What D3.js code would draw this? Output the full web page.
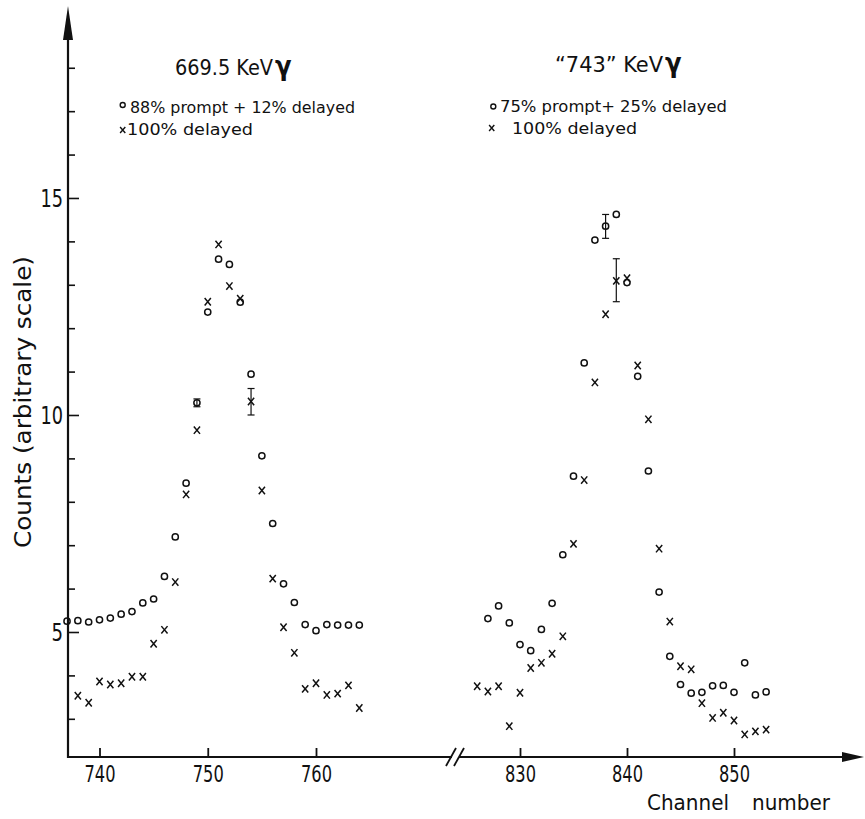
<!DOCTYPE html>
<html>
<head>
<meta charset="utf-8">
<script src="https://cdn.jsdelivr.net/npm/d3@7"></script>
<style>
body { margin: 0; background: #fff; }
svg { display: block; }
text { font-family: "DejaVu Sans Condensed", "DejaVu Sans", sans-serif; fill: #111; }
</style>
</head>
<body>
<script>
// data (channel, counts)
var leftPromptCh = [737,738,739,740,741,742,743,744,745,746,747,748,749,750,751,752,753,754,755,756,757,758,759,760,761,762,763,764];
var leftPromptVal = [5.25,5.26,5.23,5.28,5.32,5.41,5.47,5.67,5.76,6.28,7.19,8.43,10.28,12.37,13.59,13.47,12.6,10.94,9.06,7.5,6.11,5.68,5.17,5.03,5.17,5.16,5.16,5.16];
var leftDelayedCh = [738,739,740,741,742,743,744,745,746,747,748,749,750,751,752,753,754,755,756,757,758,759,760,761,762,763,764];
var leftDelayedVal = [3.53,3.37,3.86,3.79,3.82,3.97,3.97,4.73,5.05,6.15,8.17,9.65,12.61,13.93,12.97,12.68,10.31,8.26,6.23,5.11,4.52,3.69,3.82,3.55,3.58,3.77,3.25];

var rightPromptCh = [827,828,829,830,831,832,833,834,835,836,837,838,839,840,841,842,843,844,845,846,847,848,849,850,851,852,853];
var rightPromptVal = [5.31,5.6,5.21,4.71,4.57,5.06,5.66,6.78,8.59,11.2,14.03,14.35,14.62,13.05,10.89,8.71,5.92,4.44,3.79,3.59,3.61,3.76,3.77,3.61,4.29,3.55,3.62];
var rightDelayedCh = [826,827,828,829,830,831,832,833,834,835,836,837,838,839,840,841,842,843,844,845,846,847,848,849,850,851,852,853];
var rightDelayedVal = [3.75,3.63,3.75,2.83,3.6,4.17,4.29,4.5,4.9,7.03,8.5,10.75,12.32,13.09,13.15,11.14,9.9,6.92,5.24,4.21,4.14,3.36,3.02,3.14,2.96,2.64,2.71,2.75];

// error bars
var leftErrCh = [749, 754];
var leftErrLo = [10.19, 10.0];
var leftErrHi = [10.37, 10.61];
var rightErrCh = [838, 839];
var rightErrLo = [14.07, 12.61];
var rightErrHi = [14.62, 13.6];

var leftTicks = [740, 750, 760];
var rightTicks = [830, 840, 850];
var yMajor = [5, 10, 15];
var yMinor = [3,4,6,7,8,9,11,12,13,14,16,17,18];

var width = 865, height = 819;
var ink = "#111";

var svg = d3.select("body").append("svg")
    .attr("width", width)
    .attr("height", height);

var y = d3.scaleLinear().domain([2.12, 19.4]).range([757, 7]);
var xL = d3.scaleLinear().domain([740, 760]).range([99.5, 316]);
var xR = d3.scaleLinear().domain([830, 850]).range([520, 734]);
var axisX = 68, axisY = y(2.12);

// y axis ticks (inside), labels on the left
svg.append("g")
    .attr("transform", "translate(" + axisX + ",0)")
    .call(d3.axisLeft(y).tickValues(yMinor).tickSize(-7).tickFormat(""))
    .call(function(g){ g.select(".domain").remove(); });

var yAx = svg.append("g")
    .attr("transform", "translate(" + axisX + ",0)")
    .call(d3.axisLeft(y).tickValues(yMajor).tickSizeInner(-11).tickSizeOuter(0).tickPadding(5));
yAx.select(".domain").remove();
yAx.selectAll("text")
    .attr("font-size", 24)
    .attr("font-family", null)
    .attr("dy", "0.36em")
    .attr("textLength", function(d){ return d < 10 ? 11.5 : 22.5; })
    .attr("lengthAdjust", "spacingAndGlyphs");
svg.selectAll(".tick line").attr("stroke", ink).attr("stroke-width", 1.6);

// x axes
function bottomAxis(scale, ticks){
  var g = svg.append("g")
      .attr("transform", "translate(0," + axisY + ")")
      .call(d3.axisBottom(scale).tickValues(ticks).tickSizeInner(-9).tickSizeOuter(0).tickPadding(8));
  g.select(".domain").remove();
  g.selectAll("line").attr("stroke", ink).attr("stroke-width", 1.8);
  g.selectAll("text")
      .attr("font-size", 23.5)
      .attr("font-family", null)
      .attr("dy", "0.74em")
      .attr("textLength", 31)
      .attr("lengthAdjust", "spacingAndGlyphs");
}
bottomAxis(xL, leftTicks);
bottomAxis(xR, rightTicks);

// axis lines with arrows and break
var axes = svg.append("g").attr("stroke", ink).attr("stroke-width", 2.2).attr("fill", "none");
axes.append("line").attr("x1", axisX).attr("y1", axisY + 1).attr("x2", axisX).attr("y2", 30);
axes.append("line").attr("x1", axisX - 1).attr("y1", axisY).attr("x2", 452).attr("y2", axisY);
axes.append("line").attr("x1", 459).attr("y1", axisY).attr("x2", 848).attr("y2", axisY);
axes.append("line").attr("x1", 446).attr("y1", axisY + 9).attr("x2", 456).attr("y2", axisY - 9).attr("stroke-width", 1.8);
axes.append("line").attr("x1", 454).attr("y1", axisY + 9).attr("x2", 464).attr("y2", axisY - 9).attr("stroke-width", 1.8);
svg.append("path")
    .attr("d", "M" + axisX + ",6L" + (axisX + 5) + ",40L" + (axisX - 5) + ",40Z")
    .attr("fill", ink);
svg.append("path")
    .attr("d", "M864," + axisY + "L842," + (axisY - 5) + "L842," + (axisY + 5) + "Z")
    .attr("fill", ink);

// points
var crossPath = "M-3.1,-3.7L3.1,3.7M3.1,-3.7L-3.1,3.7";
function drawSeries(scale, chs, vals, kind){
  var pts = chs.map(function(c, i){ return {ch: c, v: vals[i]}; });
  if (kind === "o") {
    svg.append("g").selectAll("circle").data(pts).enter().append("circle")
        .attr("cx", function(d){ return scale(d.ch); })
        .attr("cy", function(d){ return y(d.v); })
        .attr("r", 3.1)
        .attr("fill", "none")
        .attr("stroke", ink)
        .attr("stroke-width", 1.5);
  } else {
    svg.append("g").selectAll("path").data(pts).enter().append("path")
        .attr("transform", function(d){ return "translate(" + scale(d.ch) + "," + y(d.v) + ")"; })
        .attr("d", crossPath)
        .attr("fill", "none")
        .attr("stroke", ink)
        .attr("stroke-width", 1.5);
  }
}
drawSeries(xL, leftPromptCh, leftPromptVal, "o");
drawSeries(xL, leftDelayedCh, leftDelayedVal, "x");
drawSeries(xR, rightPromptCh, rightPromptVal, "o");
drawSeries(xR, rightDelayedCh, rightDelayedVal, "x");

function drawErr(scale, chs, lo, hi){
  var g = svg.append("g").attr("stroke", ink).attr("stroke-width", 1.2);
  chs.forEach(function(c, i){
    var x = scale(c);
    g.append("line").attr("x1", x).attr("x2", x).attr("y1", y(lo[i])).attr("y2", y(hi[i]));
    g.append("line").attr("x1", x - 3.5).attr("x2", x + 3.5).attr("y1", y(lo[i])).attr("y2", y(lo[i]));
    g.append("line").attr("x1", x - 3.5).attr("x2", x + 3.5).attr("y1", y(hi[i])).attr("y2", y(hi[i]));
  });
}
drawErr(xL, leftErrCh, leftErrLo, leftErrHi);
drawErr(xR, rightErrCh, rightErrLo, rightErrHi);

// labels
svg.append("text")
    .attr("transform", "translate(31,402) rotate(-90)")
    .attr("text-anchor", "middle")
    .attr("font-size", 23)
    .attr("textLength", 292)
    .attr("lengthAdjust", "spacingAndGlyphs")
    .text("Counts (arbitrary scale)");

svg.append("text").attr("x", 647).attr("y", 810).attr("font-size", 22)
    .attr("textLength", 82).attr("lengthAdjust", "spacingAndGlyphs").text("Channel");
svg.append("text").attr("x", 752).attr("y", 810).attr("font-size", 22)
    .attr("textLength", 78).attr("lengthAdjust", "spacingAndGlyphs").text("number");

// panel titles
function title(x, yy, label, len){
  var t = svg.append("text").attr("x", x).attr("y", yy).attr("font-size", 22);
  t.append("tspan").attr("textLength", len).attr("lengthAdjust", "spacingAndGlyphs").text(label);
  t.append("tspan").attr("font-size", 27).attr("font-weight", "bold").attr("dx", 2).text("γ");
}
title(175, 75, "669.5 KeV", 98);
title(555, 72, "\u201c743\u201d KeV", 108);

// legends
function legend(mx, my, kind, tx, ty, label, len){
  if (kind === "o") {
    svg.append("circle").attr("cx", mx).attr("cy", my).attr("r", 2.5)
        .attr("fill", "none").attr("stroke", ink).attr("stroke-width", 1.4);
  } else {
    svg.append("path").attr("transform", "translate(" + mx + "," + my + ")")
        .attr("d", "M-2.6,-3L2.6,3M2.6,-3L-2.6,3")
        .attr("fill", "none").attr("stroke", ink).attr("stroke-width", 1.4);
  }
  svg.append("text").attr("x", tx).attr("y", ty).attr("font-size", 16)
      .attr("textLength", len).attr("lengthAdjust", "spacingAndGlyphs").text(label);
}
legend(122.7, 105, "o", 130, 113, "88% prompt + 12% delayed", 225);
legend(122.7, 130, "x", 127, 135, "100% delayed", 126);
legend(493.3, 106.5, "o", 500, 112, "75% prompt+ 25% delayed", 227);
legend(491.7, 128, "x", 512, 133.5, "100% delayed", 125);
</script>
</body>
</html>
